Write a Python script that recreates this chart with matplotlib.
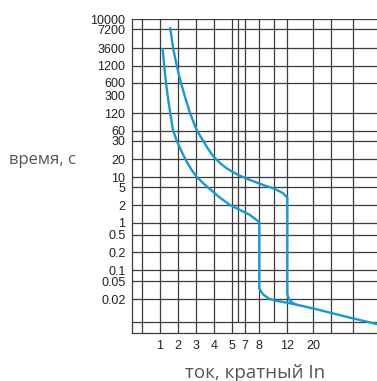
import numpy as np
import matplotlib.pyplot as plt

# y tick labels (time, s) and x tick labels (current, multiples of In)
y_ticks = [10000, 7200, 3600, 1200, 600, 300, 120, 60, 30, 20, 10, 5, 2, 1, 0.5, 0.2, 0.1, 0.05, 0.02]
y_labels = ['10000', '7200', '3600', '1200', '600', '300', '120', '60', '30', '20', '10',
            '5', '2', '1', '0.5', '0.2', '0.1', '0.05', '0.02']
x_ticks = [1, 2, 3, 4, 5, 7, 8, 12, 20]
x_labels = ['1', '2', '3', '4', '5', '7', '8', '12', '20']

# grid lines
y_grid = [10000, 7200, 3600, 1200, 600, 120, 60, 30, 20, 10, 5, 2, 1, 0.5, 0.2, 0.1, 0.05, 0.02, 0.01]
x_grid_full = [0.5, 1, 2, 3, 4, 5, 7, 8, 12, 20, 30, 50]
x_grid_short = [6, 10]

# tripping curves: lower and upper bounds
lo_x = [1.15, 1.24, 1.33, 1.46, 1.57, 1.72, 1.93, 2.2, 2.48, 2.75, 3.02, 3.4, 3.89, 4.35, 4.91,
        6.27, 7.34, 7.81, 8.0,
        8.0, 8.47, 9.25, 10.19, 11.9, 14.37, 21.95, 47.1, 99.4]
lo_y = [3400, 1170, 600, 236, 120, 61.7, 30, 23.6, 18.2, 13.2, 10.2, 6.6, 4.2, 2.94, 2.03,
        1.66, 1.36, 1.11, 1.02,
        0.0345, 0.0258, 0.0207, 0.019, 0.0179, 0.017, 0.0146, 0.0113, 0.0087]
hi_x = [1.57, 1.74, 1.94, 2.16, 2.38, 2.66, 3.02, 3.31, 3.61, 3.96, 4.35, 4.72, 6.04, 7.34, 8.56,
        10.19, 11.41, 12.0,
        12.0, 12.52, 13.45, 14.68]
hi_y = [7400, 3400, 1170, 600, 279, 120, 61.7, 35.4, 26.1, 21.5, 17.3, 14.1, 10.9, 8.3, 5.85,
        4.58, 3.68, 2.94,
        0.0258, 0.0197, 0.018, 0.0169]

# non-uniform axes of the original drawing (value -> position anchors)
yv = np.log10([1e-6, 0.005, 0.01, 0.02, 0.05, 0.1, 0.2, 0.5, 1, 2, 5, 10, 20, 30, 60, 120, 300,
               600, 1200, 3600, 7200, 10000, 1e6])
yp = -np.array([1000, 333.3, 321.7, 299, 281, 270.3, 252.3, 234.7, 222.7, 205.3, 187.3, 177.3,
                159.3, 140.7, 130.7, 113.3, 95.3, 82.7, 66, 48.3, 29.3, 19.3, -600])
xv = np.array([-100, 0.3, 0.5, 1, 2, 3, 4, 5, 6, 7, 8, 10, 12, 20, 30, 50, 100, 1000])
xp = np.array([-500, 131.7, 142, 160, 178, 196.3, 213.7, 231.7, 238, 245.3, 259.3, 273.7,
               287.3, 313.3, 330.7, 353.3, 377, 1000])


def y_fwd(v):
    return np.interp(np.log10(np.clip(v, 1e-9, None)), yv, yp)


def y_inv(p):
    return 10 ** np.interp(p, yp, yv)


def x_fwd(v):
    return np.interp(v, xv, xp)


def x_inv(p):
    return np.interp(p, xp, xv)


fig = plt.figure(figsize=(3.77, 3.81), dpi=100)
ax = fig.add_axes([131.7 / 377, (381 - 333.3) / 381, (377 - 131.7) / 377, (333.3 - 19.3) / 381])
ax.set_xscale('function', functions=(x_fwd, x_inv))
ax.set_yscale('function', functions=(y_fwd, y_inv))
ax.set_xlim(0.3, 100)
ax.set_ylim(0.005, 10000)

gc = '#3c3c3c'
for v in y_grid:
    ax.axhline(v, color=gc, lw=0.9, zorder=1)
for v in x_grid_full:
    ax.axvline(v, color=gc, lw=0.9, zorder=1)
ax.vlines(x_grid_short, 0.01, 10000, color=gc, lw=0.9, zorder=1)

blue = '#1599d8'
ax.plot(lo_x, lo_y, color=blue, lw=1.7, zorder=3, solid_joinstyle='round')
ax.plot(hi_x, hi_y, color=blue, lw=1.7, zorder=3, solid_joinstyle='round')

ax.set_yticks(y_ticks, labels=y_labels)
ax.set_xticks(x_ticks, labels=x_labels)
ax.minorticks_off()
ax.tick_params(axis='both', length=0, labelsize=9, labelcolor='#222222')
ax.tick_params(axis='y', pad=4.5)
ax.tick_params(axis='x', pad=4.5)
for lab in ax.get_xticklabels() + ax.get_yticklabels():
    lab.set_family('Liberation Sans')

for s in ['top', 'right']:
    ax.spines[s].set_visible(False)
for s in ['left', 'bottom']:
    ax.spines[s].set_color(gc)
    ax.spines[s].set_linewidth(0.9)

fig.text(9 / 377, 1 - 160 / 381, 'время, с', family='Open Sans', fontsize=12,
         color='#555555', ha='left', va='center')
fig.text(255 / 377, 1 - 373 / 381, 'ток, кратный In', family='Open Sans', fontsize=13.5,
         color='#555555', ha='center', va='center')

fig.savefig('out.png', dpi=100)
